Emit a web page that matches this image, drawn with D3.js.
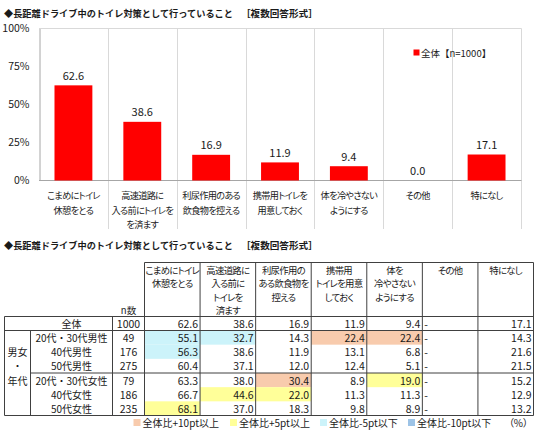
<!DOCTYPE html>
<html><head><meta charset="utf-8">
<script src="https://cdn.jsdelivr.net/npm/d3@7"></script>
<style>
body{margin:0;background:#fff;}
svg{display:block;font-family:"Noto Sans CJK JP","Noto Sans",sans-serif;}
</style>
</head><body>
<svg id="c" width="536" height="436"></svg>
<script>
// ---------- DATA ----------
const chartTitleMain = "◆長距離ドライブ中のトイレ対策として行っていること";
const chartTitleNote = "［複数回答形式］";
const categories = ["こまめにトイレ休憩をとる","高速道路に入る前にトイレを済ます","利尿作用のある飲食物を控える","携帯用トイレを用意しておく","体を冷やさないようにする","その他","特になし"];
const chartLabelLines = [["こまめにトイレ","休憩をとる"],["高速道路に","入る前にトイレを","を済ます"],["利尿作用のある","飲食物を控える"],["携帯用トイレを","用意しておく"],["体を冷やさない","ようにする"],["その他"],["特になし"]];
const overallValues = [62.6, 38.6, 16.9, 11.9, 9.4, 0.0, 17.1];
const yTicks = [0, 25, 50, 75, 100];
const legendLabel = "全体【n=1000】";

const tableHeaderLines = [["こまめにトイレ","休憩をとる"],["高速道路に","入る前に","トイレを","済ます"],["利尿作用の","ある飲食物を","控える"],["携帯用","トイレを用意","しておく"],["体を","冷やさない","ようにする"],["その他"],["特になし"]];
const overallLabel = "全体";
const overallN = 1000;
const overallRow = [62.6, 38.6, 16.9, 11.9, 9.4, null, 17.1];
const segments = ["20代・30代男性","40代男性","50代男性","20代・30代女性","40代女性","50代女性"];
const segmentN = [49, 176, 275, 79, 186, 235];
const segmentValues = [
  [55.1, 32.7, 14.3, 22.4, 22.4, null, 14.3],
  [56.3, 38.6, 11.9, 13.1, 6.8, null, 21.6],
  [60.4, 37.1, 12.0, 12.4, 5.1, null, 21.5],
  [63.3, 38.0, 30.4, 8.9, 19.0, null, 15.2],
  [66.7, 44.6, 22.0, 11.3, 11.3, null, 12.9],
  [68.1, 37.0, 18.3, 9.8, 8.9, null, 13.2]
];
const groupLabelLines = ["男女","・","年代"];
const highlightLegend = ["全体比+10pt以上","全体比+5pt以上","全体比-5pt以下","全体比-10pt以下"];
const highlightThresholds = [10, 5, -5, -10];
const unitLabel = "（%）";

// ---------- STYLE ----------
const RED = "#ff0000";
const hlColors = ["#f8cbad", "#ffff99", "#ccf3fa", "#9dc3e6"];
const GRID = "#d9d9d9", AXIS = "#a6a6a6", TLINE = "#404040", TXT = "#1a1a1a";
const PALT = '"palt" 1';

const svg = d3.select("#c");

function title(yc) {
  svg.append("text").attr("x", 4).attr("y", yc).attr("dominant-baseline", "central")
    .attr("font-size", 9.2).attr("font-weight", "bold").attr("fill", TXT).text(chartTitleMain);
  svg.append("text").attr("x", 241).attr("y", yc).attr("dominant-baseline", "central")
    .attr("font-size", 9.6).attr("font-weight", "bold").attr("fill", TXT).text(chartTitleNote);
}

// ---------- TOP CHART ----------
title(12.5);

const x = d3.scaleBand().domain(categories).range([39, 521]).padding(0);
const y = d3.scaleLinear().domain([0, 100]).range([180.5, 28.5]);
const bw = x.bandwidth();
const barW = bw * 0.55;

const g = svg.append("g");
g.selectAll(".sep").data(categories.slice(1)).join("line")
  .attr("x1", d => Math.round(x(d)) + 0.5).attr("x2", d => Math.round(x(d)) + 0.5)
  .attr("y1", y(100)).attr("y2", 229).attr("stroke", GRID);
g.append("line").attr("x1", 39).attr("x2", 521.5).attr("y1", y(100)).attr("y2", y(100)).attr("stroke", GRID);
g.append("line").attr("x1", 521.5).attr("x2", 521.5).attr("y1", y(100)).attr("y2", 229).attr("stroke", GRID);

const yAxis = g.append("g").attr("transform", "translate(39.5,0)")
  .call(d3.axisLeft(y).tickValues(yTicks).tickFormat(d => d + "%").tickSize(0).tickPadding(10));
yAxis.select(".domain").attr("stroke", AXIS);
yAxis.selectAll("text").attr("font-size", 10.5).attr("fill", TXT).attr("font-family", '"Noto Sans CJK JP","Noto Sans",sans-serif');
g.append("line").attr("x1", 39).attr("x2", 521.5).attr("y1", y(0)).attr("y2", y(0)).attr("stroke", AXIS);

g.selectAll(".bar").data(overallValues).join("rect")
  .attr("x", (d, i) => x(categories[i]) + (bw - barW) / 2)
  .attr("y", d => y(d)).attr("width", barW).attr("height", d => y(0) - y(d))
  .attr("fill", RED);
g.selectAll(".val").data(overallValues).join("text")
  .attr("x", (d, i) => x(categories[i]) + bw / 2).attr("y", d => y(d) - 10.5)
  .attr("text-anchor", "middle").attr("dominant-baseline", "central")
  .attr("font-size", 11).attr("fill", TXT).text(d => d.toFixed(1));

chartLabelLines.forEach((lines, i) => {
  lines.forEach((ln, j) => {
    g.append("text").style("font-feature-settings", PALT).style("letter-spacing", "-0.7px")
      .attr("x", x(categories[i]) + bw / 2).attr("y", 195 + j * 14.5)
      .attr("text-anchor", "middle").attr("dominant-baseline", "central")
      .attr("font-size", 9.2).attr("fill", TXT).text(ln);
  });
});

g.append("rect").attr("x", 413.5).attr("y", 49.5).attr("width", 6).attr("height", 6).attr("fill", RED);
g.append("text").attr("x", 421).attr("y", 52.5).attr("dominant-baseline", "central")
  .attr("font-size", 9.5).attr("fill", TXT).text(legendLabel);

// ---------- TABLE ----------
const t = svg.append("g");
title(245);

const col = d3.scaleBand().domain(categories).range([144.5, 533.5]).padding(0);
const cw = col.bandwidth();
const rowsTop = 330.5, rowsBottom = 415.5, headTop = 262.5, headBottom = 316.5;
const row = d3.scaleBand().domain(segments).range([rowsTop, rowsBottom]).padding(0);
const rh = row.bandwidth();
const labelL = 4.5, groupR = 30.5, labelR = 112.5, nR = 144.5;

function hl(v, base) {
  if (v == null) return null;
  const d = +(v - base).toFixed(1);
  if (d >= highlightThresholds[0]) return hlColors[0];
  if (d >= highlightThresholds[1]) return hlColors[1];
  if (d < highlightThresholds[3]) return hlColors[3];
  if (d < highlightThresholds[2]) return hlColors[2];
  return null;
}

segmentValues.forEach((vals, r) => {
  vals.forEach((v, c) => {
    const f = hl(v, overallRow[c]);
    if (f) t.append("rect").attr("x", col(categories[c])).attr("y", row(segments[r]))
      .attr("width", cw).attr("height", rh).attr("fill", f);
  });
});

tableHeaderLines.forEach((lines, i) => {
  lines.forEach((ln, j) => {
    t.append("text").style("font-feature-settings", PALT).style("letter-spacing", "-0.7px")
      .attr("x", col(categories[i]) + cw / 2).attr("y", 269.5 + j * 13.6)
      .attr("text-anchor", "middle").attr("dominant-baseline", "central")
      .attr("font-size", 9.4).attr("fill", TXT).text(ln);
  });
});
t.append("text").attr("x", (labelR + nR) / 2).attr("y", 310).attr("text-anchor", "middle")
  .attr("dominant-baseline", "central").attr("font-size", 9.5).attr("fill", TXT).text("n数");

function drawRow(cy, label, n, vals) {
  t.append("text").attr("x", (groupR + labelR) / 2).attr("y", cy).attr("text-anchor", "middle")
    .attr("dominant-baseline", "central").attr("font-size", 10).attr("fill", TXT).text(label);
  t.append("text").attr("x", (labelR + nR) / 2).attr("y", cy).attr("text-anchor", "middle")
    .attr("dominant-baseline", "central").attr("font-size", 10.5).attr("fill", TXT).text(n);
  vals.forEach((v, c) => {
    const isNull = v == null;
    t.append("text")
      .attr("x", isNull ? col(categories[c]) + 2 : col(categories[c]) + cw - 2)
      .attr("y", cy).attr("text-anchor", isNull ? "start" : "end")
      .attr("dominant-baseline", "central").attr("font-size", 10.5).attr("fill", TXT)
      .text(isNull ? "-" : v.toFixed(1));
  });
}
drawRow((headBottom + rowsTop) / 2, overallLabel, overallN, overallRow);
segmentValues.forEach((vals, r) => drawRow(row(segments[r]) + rh / 2, segments[r], segmentN[r], vals));

groupLabelLines.forEach((ln, j) => {
  t.append("text").attr("x", (labelL + groupR) / 2).attr("y", row(segments[j + 1]) + rh / 2)
    .attr("text-anchor", "middle").attr("dominant-baseline", "central")
    .attr("font-size", 10).attr("fill", TXT).text(ln);
});

const L = (x1, y1, x2, y2) => t.append("line").attr("x1", x1).attr("y1", y1).attr("x2", x2).attr("y2", y2)
  .attr("stroke", TLINE).attr("stroke-width", 1);
L(nR, headTop, 533.5, headTop);
L(labelL, headBottom, 533.5, headBottom);
L(labelL, rowsTop, 533.5, rowsTop);
L(groupR, row(segments[3]), 533.5, row(segments[3]));
L(labelL, rowsBottom, 533.5, rowsBottom);
L(labelL, headBottom, labelL, rowsBottom);
L(groupR, rowsTop, groupR, rowsBottom);
L(labelR, headBottom, labelR, rowsBottom);
categories.forEach(c => L(col(c), headTop, col(c), rowsBottom));
L(533.5, headTop, 533.5, rowsBottom);

// highlight legend
const legendX = [133.5, 230, 320, 408];
const ly = 422.5;
highlightLegend.forEach((lab, i) => {
  t.append("rect").attr("x", legendX[i]).attr("y", ly - 3.5).attr("width", 7).attr("height", 7).attr("fill", hlColors[i]);
  t.append("text").attr("x", legendX[i] + 9).attr("y", ly).attr("dominant-baseline", "central")
    .attr("font-size", 10).attr("fill", TXT).text(lab);
});
t.append("text").style("font-feature-settings", PALT).attr("x", 528).attr("y", ly).attr("text-anchor", "end")
  .attr("dominant-baseline", "central").attr("font-size", 10).attr("fill", TXT).text(unitLabel);
</script>
</body></html>
